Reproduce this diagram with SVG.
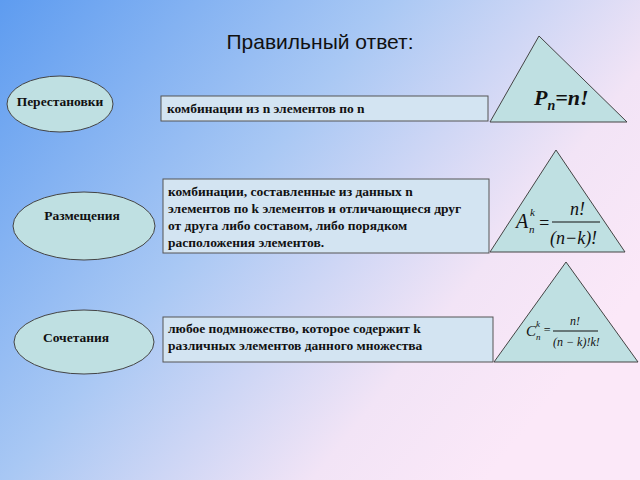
<svg xmlns="http://www.w3.org/2000/svg" width="640" height="480" viewBox="0 0 640 480">
<defs>
<linearGradient id="bg" x1="0" y1="0" x2="1" y2="0.6">
<stop offset="0" stop-color="#5e9cf0"/><stop offset="0.45" stop-color="#a9c8f4"/><stop offset="0.8" stop-color="#f2e4f6"/><stop offset="1" stop-color="#fbe8f8"/>
</linearGradient>
<style>
.sh{fill:#bfe0e2;stroke:#444;stroke-width:1}
.bx{fill:#d3e4f2;stroke:#555;stroke-width:1}
.t{font-family:"Liberation Serif",serif;font-weight:bold;font-size:13.5px;fill:#111}
.f{font-family:"Liberation Serif",serif;font-style:italic;fill:#111}
</style>
</defs>
<rect width="640" height="480" fill="url(#bg)"/>
<text x="320" y="49" text-anchor="middle" font-family="Liberation Sans,sans-serif" font-size="21" fill="#111">Правильный ответ:</text>
<g id="n1"><ellipse class="sh" cx="60" cy="104" rx="53" ry="28"/><text class="t" x="60" y="106" text-anchor="middle">Перестановки</text></g>
<g id="b1"><rect class="bx" x="161" y="96" width="327" height="25"/><text class="t" x="167" y="113">комбинации из n элементов по n</text></g>
<g id="t1"><polygon class="sh" points="539,36 490,122 627,122"/><text class="f" x="534" y="105" font-size="22" font-weight="bold">P<tspan font-size="14" dy="5">n</tspan><tspan dy="-5">=n!</tspan></text></g>
<g id="n2"><ellipse class="sh" cx="84" cy="226" rx="71" ry="34"/><text class="t" x="82" y="220" text-anchor="middle">Размещения</text></g>
<g id="b2"><rect class="bx" x="163" y="179" width="326" height="74"/>
<text class="t" x="168" y="196">комбинации, составленные из данных n</text>
<text class="t" x="168" y="213">элементов по k элементов и отличающиеся друг</text>
<text class="t" x="168" y="230">от друга либо составом, либо порядком</text>
<text class="t" x="168" y="247">расположения элементов.</text></g>
<g id="t2"><polygon class="sh" points="556,150 490,252 625,252"/>
<text class="f" x="516" y="228" font-size="20">A</text><text class="f" x="530" y="216" font-size="11">k</text><text class="f" x="529" y="233" font-size="11">n</text>
<text class="f" x="538" y="229" font-size="18">=</text>
<text class="f" x="570" y="215" font-size="18">n!</text><line x1="552" y1="222" x2="600" y2="222" stroke="#111"/>
<text class="f" x="550" y="244" font-size="18">(n−k)!</text></g>
<g id="n3"><ellipse class="sh" cx="84" cy="342" rx="70" ry="32"/><text class="t" x="76" y="342" text-anchor="middle">Сочетания</text></g>
<g id="b3"><rect class="bx" x="163" y="317" width="330" height="45"/>
<text class="t" x="168" y="333">любое подмножество, которое содержит k</text>
<text class="t" x="168" y="350">различных элементов данного множества</text></g>
<g id="t3"><polygon class="sh" points="566,262 494,362 638,362"/>
<text class="f" x="526" y="336" font-size="15">C</text><text class="f" x="536" y="327" font-size="9">k</text><text class="f" x="536" y="340" font-size="9">n</text>
<text class="f" x="543" y="334" font-size="12">=</text>
<text class="f" x="570" y="325" font-size="12">n!</text><line x1="553" y1="331" x2="598" y2="331" stroke="#111"/>
<text class="f" x="553" y="346" font-size="12">(n − k)!k!</text></g>
<g id="connectors"></g>
</svg>
